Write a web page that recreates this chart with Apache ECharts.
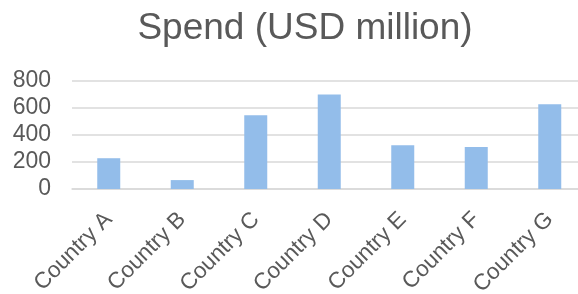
<!DOCTYPE html>
<html>
<head>
<meta charset="utf-8">
<script src="https://cdn.jsdelivr.net/npm/echarts@6/dist/echarts.min.js"></script>
<style>
html, body { margin: 0; padding: 0; background: #fff; }
#main { width: 578px; height: 294px; }
</style>
</head>
<body>
<div id="main"></div>
<script>
var categories = ['Country A', 'Country B', 'Country C', 'Country D', 'Country E', 'Country F', 'Country G'];
var spend = [228, 66, 547, 700, 325, 312, 628];
var yTicks = [0, 200, 400, 600, 800];

var myChart = echarts.init(document.getElementById('main'));

var option = {
	animation : false,
	title : {
		text : 'Spend (USD million)',
		left : 300,
		top : 5,
		textAlign : 'center',
		textStyle : {
			fontFamily : 'Liberation Sans',
			fontSize : 37,
			fontWeight : 'normal',
			color : '#595959'
		}
	},
	grid : {
		left : 72,
		top : 81,
		width : 514.5, // plot runs past the right edge, like the original
		height : 108,
		outerBoundsMode : 'none'
	},
	xAxis : {
		type : 'category',
		data : categories,
		axisLine : { lineStyle : { color : '#d9d9d9', width : 1.5 } },
		axisTick : { show : false },
		axisLabel : {
			rotate : 45,
			margin : 27,
			interval : 0,
			fontFamily : 'Liberation Sans',
			fontSize : 22.5,
			color : '#595959'
		}
	},
	yAxis : {
		type : 'value',
		min : yTicks[0],
		max : yTicks[yTicks.length - 1],
		interval : 200,
		axisLine : { show : false },
		axisTick : { show : false },
		splitLine : { lineStyle : { color : '#d9d9d9', width : 1.5 } },
		axisLabel : {
			margin : 21,
			fontFamily : 'Liberation Sans',
			fontSize : 23,
			color : '#595959'
		}
	},
	series : [ {
		type : 'bar',
		data : spend,
		barWidth : 23,
		itemStyle : { color : '#93bdea' }
	} ]
};

myChart.setOption(option);
</script>
</body>
</html>
